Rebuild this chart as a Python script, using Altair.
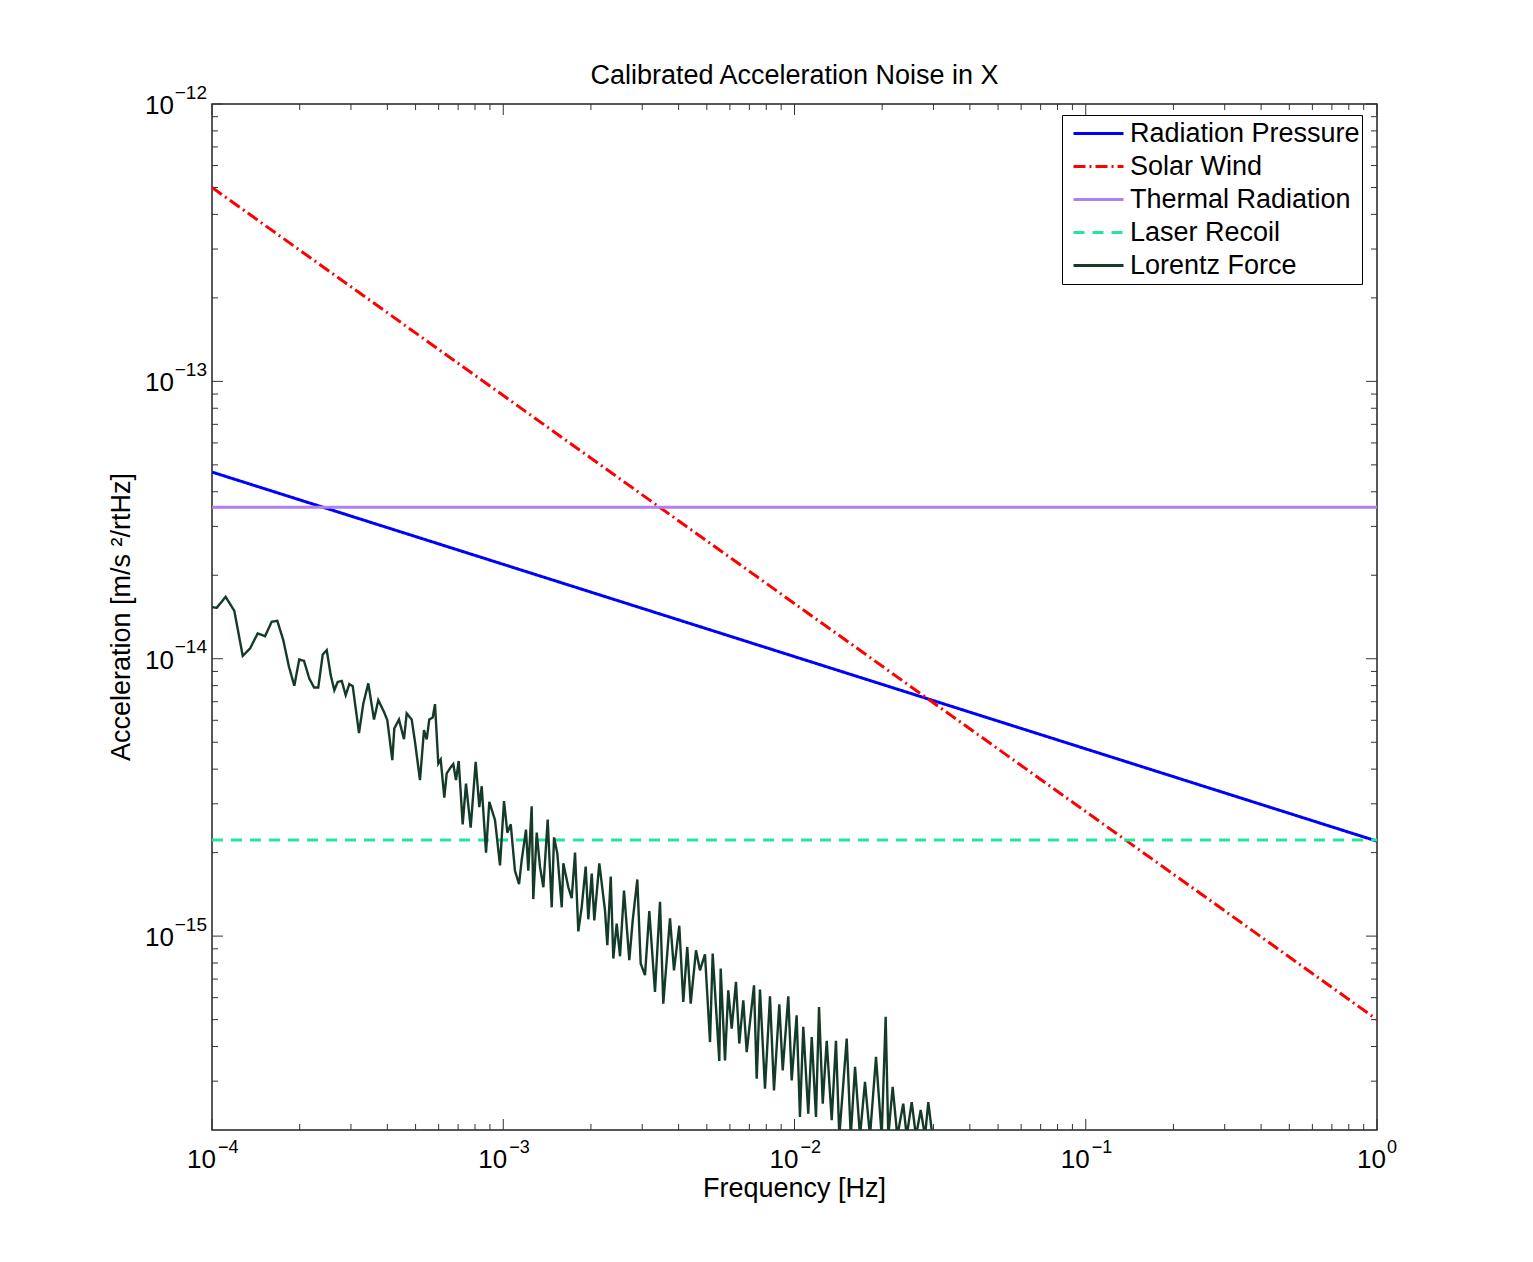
import altair as alt
import pandas as pd

FONT = "Liberation Sans"
W, H = 1165, 1026

# ---------------- data ----------------
series_names = ["Radiation Pressure", "Solar Wind", "Thermal Radiation", "Laser Recoil", "Lorentz Force"]
series_colors = ["#0000ff", "#ff0000", "#b07ff0", "#22e6a0", "#143a28"]
series_dashes = [[1, 0], [12, 4, 2, 4], [1, 0], [11, 8], [1, 0]]

freq_ends = [1e-4, 1.0]
radiation_pressure = [4.71e-14, 2.2e-15]
solar_wind = [5.0e-13, 5.0e-16]
thermal_radiation = [3.52e-14, 3.52e-14]
laser_recoil = [2.22e-15, 2.22e-15]

lorentz_freq = [
    1.000e-4, 1.038e-4, 1.114e-4, 1.193e-4, 1.275e-4, 1.351e-4, 1.435e-4, 1.521e-4, 1.603e-4, 1.676e-4,
    1.757e-4, 1.838e-4, 1.917e-4, 1.993e-4, 2.069e-4, 2.158e-4, 2.240e-4, 2.317e-4, 2.400e-4, 2.477e-4,
    2.556e-4, 2.630e-4, 2.702e-4, 2.789e-4, 2.878e-4, 2.961e-4, 3.042e-4, 3.197e-4, 3.308e-4, 3.441e-4,
    3.599e-4, 3.724e-4, 3.896e-4, 3.998e-4, 4.160e-4, 4.226e-4, 4.386e-4, 4.562e-4, 4.661e-4, 4.849e-4,
    4.977e-4, 5.177e-4, 5.344e-4, 5.460e-4, 5.573e-4, 5.725e-4, 5.830e-4, 5.984e-4, 6.098e-4, 6.275e-4,
    6.395e-4, 6.601e-4, 6.737e-4, 6.883e-4, 7.031e-4, 7.257e-4, 7.449e-4, 7.730e-4, 8.042e-4, 8.275e-4,
    8.433e-4, 8.727e-4, 8.957e-4, 9.369e-4, 9.746e-4, 1.006e-3, 1.033e-3, 1.061e-3, 1.097e-3, 1.133e-3,
    1.157e-3, 1.197e-3, 1.219e-3, 1.252e-3, 1.268e-3, 1.303e-3, 1.337e-3, 1.373e-3, 1.421e-3, 1.467e-3,
    1.494e-3, 1.533e-3, 1.588e-3, 1.608e-3, 1.673e-3, 1.718e-3, 1.764e-3, 1.810e-3, 1.859e-3, 1.919e-3,
    1.959e-3, 2.013e-3, 2.054e-3, 2.137e-3, 2.235e-3, 2.277e-3, 2.339e-3, 2.387e-3, 2.452e-3, 2.517e-3,
    2.598e-3, 2.709e-3, 2.783e-3, 2.886e-3, 2.964e-3, 3.067e-3, 3.173e-3, 3.319e-3, 3.453e-3, 3.544e-3,
    3.737e-3, 3.857e-3, 4.022e-3, 4.151e-3, 4.284e-3, 4.401e-3, 4.590e-3, 4.737e-3, 4.928e-3, 5.127e-3,
    5.237e-3, 5.518e-3, 5.579e-3, 5.772e-3, 5.924e-3, 6.086e-3, 6.296e-3, 6.463e-3, 6.671e-3, 6.853e-3,
    7.261e-3, 7.417e-3, 7.612e-3, 7.919e-3, 8.239e-3, 8.503e-3, 8.868e-3, 9.110e-3, 9.521e-3, 9.781e-3,
    1.017e-2, 1.044e-2, 1.072e-2, 1.115e-2, 1.146e-2, 1.185e-2, 1.214e-2, 1.250e-2, 1.290e-2, 1.342e-2,
    1.388e-2, 1.425e-2, 1.511e-2, 1.560e-2, 1.614e-2, 1.678e-2, 1.746e-2, 1.816e-2, 1.905e-2, 1.992e-2,
    2.056e-2, 2.099e-2, 2.173e-2, 2.254e-2, 2.363e-2, 2.428e-2, 2.526e-2, 2.613e-2, 2.712e-2, 2.806e-2,
    2.880e-2, 2.958e-2, 2.996e-2,
]
lorentz_accel = [
    1.535e-14, 1.526e-14, 1.672e-14, 1.488e-14, 1.024e-14, 1.089e-14, 1.234e-14, 1.206e-14, 1.359e-14, 1.370e-14,
    1.167e-14, 9.35e-15, 7.99e-15, 9.94e-15, 9.83e-15, 8.49e-15, 7.88e-15, 7.88e-15, 1.036e-14, 1.074e-14,
    8.73e-15, 7.70e-15, 8.25e-15, 8.32e-15, 7.39e-15, 8.10e-15, 7.96e-15, 5.40e-15, 6.90e-15, 8.15e-15,
    6.04e-15, 7.09e-15, 6.43e-15, 6.01e-15, 4.31e-15, 5.61e-15, 6.04e-15, 5.13e-15, 6.35e-15, 6.04e-15,
    5.02e-15, 3.65e-15, 5.53e-15, 5.12e-15, 6.04e-15, 6.14e-15, 6.86e-15, 4.19e-15, 4.33e-15, 3.16e-15,
    3.86e-15, 4.06e-15, 4.17e-15, 3.65e-15, 4.28e-15, 2.53e-15, 3.55e-15, 2.46e-15, 4.25e-15, 2.92e-15,
    3.47e-15, 2.00e-15, 3.05e-15, 2.62e-15, 1.80e-15, 3.07e-15, 2.36e-15, 2.53e-15, 1.72e-15, 1.54e-15,
    1.88e-15, 2.42e-15, 1.72e-15, 2.94e-15, 1.36e-15, 2.36e-15, 1.78e-15, 1.50e-15, 2.63e-15, 1.27e-15,
    2.27e-15, 1.99e-15, 1.27e-15, 1.83e-15, 1.50e-15, 1.37e-15, 2.00e-15, 1.04e-15, 1.27e-15, 1.78e-15,
    1.15e-15, 1.68e-15, 1.14e-15, 1.83e-15, 1.24e-15, 9.27e-16, 1.64e-15, 8.30e-16, 1.11e-15, 8.46e-16,
    1.46e-15, 8.19e-16, 1.14e-15, 1.60e-15, 7.96e-16, 7.23e-16, 1.23e-15, 6.29e-16, 1.33e-15, 5.71e-16,
    1.16e-15, 7.53e-16, 1.09e-15, 5.79e-16, 9.14e-16, 5.71e-16, 8.89e-16, 7.53e-16, 8.60e-16, 4.15e-16,
    8.65e-16, 3.55e-16, 7.64e-16, 3.56e-16, 6.38e-16, 4.64e-16, 6.84e-16, 4.10e-16, 5.87e-16, 3.82e-16,
    6.65e-16, 3.06e-16, 6.42e-16, 2.82e-16, 6.07e-16, 2.78e-16, 5.68e-16, 3.28e-16, 6.07e-16, 3.02e-16,
    5.18e-16, 2.23e-16, 4.71e-16, 2.29e-16, 4.33e-16, 2.23e-16, 5.55e-16, 2.49e-16, 4.19e-16, 2.17e-16,
    4.19e-16, 1.9e-16, 4.27e-16, 1.9e-16, 3.38e-16, 1.9e-16, 2.98e-16, 1.9e-16, 3.67e-16, 1.9e-16,
    5.12e-16, 1.9e-16, 2.86e-16, 1.9e-16, 2.49e-16, 1.9e-16, 2.52e-16, 1.9e-16, 2.36e-16, 1.9e-16,
    2.52e-16, 2.0e-16, 1.9e-16,
]

x_major = [1e-4, 1e-3, 1e-2, 1e-1, 1.0]
x_exponents = ["\u22124", "\u22123", "\u22122", "\u22121", "0"]
y_major = [1e-12, 1e-13, 1e-14, 1e-15]
y_exponents = ["\u221212", "\u221213", "\u221214", "\u221215"]
minor_multipliers = [2, 3, 4, 5, 6, 7, 8, 9]

title_text = "Calibrated Acceleration Noise in X"
x_title = "Frequency [Hz]"
y_title = "Acceleration [m/s \u00b2/rtHz]"

# ---------------- tables ----------------
rows = []
for name, vals in [("Radiation Pressure", radiation_pressure), ("Solar Wind", solar_wind),
                   ("Thermal Radiation", thermal_radiation), ("Laser Recoil", laser_recoil)]:
    for f, a in zip(freq_ends, vals):
        rows.append({"series": name, "f": f, "a": a})
lines_df = pd.DataFrame(rows)
lor_df = pd.DataFrame({"series": "Lorentz Force", "f": lorentz_freq, "a": lorentz_accel})

x_minor = [m * 10.0 ** k for k in range(-4, 0) for m in minor_multipliers]
y_minor = [m * 10.0 ** k for k in range(-16, -12) for m in minor_multipliers if m * 10.0 ** k > 2.5e-16]

xs = alt.Scale(type="log", domain=[1e-4, 1.0], nice=False)
ys = alt.Scale(type="log", domain=[2e-16, 1e-12], nice=False)

legend = alt.Legend(
    title=None, orient="none", legendX=850, legendY=11,
    symbolType="stroke", symbolSize=2500, symbolStrokeWidth=3,
    labelFont=FONT, labelFontSize=27, labelColor="black", labelLimit=600,
    clipHeight=33, rowPadding=0, padding=2, symbolOffset=8, labelOffset=5,
    strokeColor="black", fillColor="white",
)
color_enc = alt.Color("series:N", scale=alt.Scale(domain=series_names, range=series_colors), legend=legend)
dash_enc = alt.StrokeDash("series:N", scale=alt.Scale(domain=series_names, range=series_dashes), legend=legend)

X = alt.X("f:Q", scale=xs, axis=None)
Y = alt.Y("a:Q", scale=ys, axis=None)

lines = alt.Chart(lines_df).mark_line(strokeWidth=3, clip=True).encode(
    x=X, y=Y, color=color_enc, strokeDash=dash_enc
)
lorentz = alt.Chart(lor_df).mark_line(strokeWidth=2.4, clip=True).encode(
    x=X, y=Y, color=color_enc, strokeDash=dash_enc
)

TICK = "#333333"


def xticks(vals, length, top):
    y0, y1 = (0, length) if top else (H, H - length)
    return alt.Chart(pd.DataFrame({"v": vals})).mark_rule(color=TICK, strokeWidth=1).encode(
        x=alt.X("v:Q", scale=xs, axis=None), y=alt.value(y0), y2=alt.value(y1)
    )


def yticks(vals, length, right):
    x0, x1 = (W, W - length) if right else (0, length)
    return alt.Chart(pd.DataFrame({"v": vals})).mark_rule(color=TICK, strokeWidth=1).encode(
        y=alt.Y("v:Q", scale=ys, axis=None), x=alt.value(x0), x2=alt.value(x1)
    )


ticks = [
    xticks(x_major, 11, False), xticks(x_major, 11, True),
    xticks(x_minor, 6, False), xticks(x_minor, 6, True),
    yticks(y_major, 11, False), yticks(y_major, 11, True),
    yticks(y_minor, 6, False), yticks(y_minor, 6, True),
]

xlab_df = pd.DataFrame({"v": x_major, "exp": x_exponents})
ylab_df = pd.DataFrame({"v": y_major, "exp": y_exponents})
XV = alt.X("v:Q", scale=xs, axis=None)
YV = alt.Y("v:Q", scale=ys, axis=None)

x_base = alt.Chart(xlab_df).transform_filter("datum.v < 0.5").mark_text(
    align="right", baseline="alphabetic", fontSize=26, font=FONT, color="black", dx=4
).encode(x=XV, y=alt.value(H + 38), text=alt.value("10"))
x_exp = alt.Chart(xlab_df).transform_filter("datum.v < 0.5").mark_text(
    align="left", baseline="alphabetic", fontSize=18, font=FONT, color="black", dx=6
).encode(x=XV, y=alt.value(H + 23), text="exp:N")
x_base0 = alt.Chart(xlab_df).transform_filter("datum.v > 0.5").mark_text(
    align="right", baseline="alphabetic", fontSize=26, font=FONT, color="black", dx=9
).encode(x=XV, y=alt.value(H + 38), text=alt.value("10"))
x_exp0 = alt.Chart(xlab_df).transform_filter("datum.v > 0.5").mark_text(
    align="left", baseline="alphabetic", fontSize=18, font=FONT, color="black", dx=10
).encode(x=XV, y=alt.value(H + 23), text="exp:N")

y_base = alt.Chart(ylab_df).mark_text(
    align="right", baseline="alphabetic", fontSize=26, font=FONT, color="black", dy=10
).encode(y=YV, x=alt.value(-38), text=alt.value("10"))
y_exp = alt.Chart(ylab_df).mark_text(
    align="right", baseline="alphabetic", fontSize=19, font=FONT, color="black", dy=-5.5
).encode(y=YV, x=alt.value(-5), text="exp:N")

title_mark = alt.Chart(pd.DataFrame({"t": [title_text]})).mark_text(
    align="center", baseline="alphabetic", fontSize=27, font=FONT, color="black"
).encode(x=alt.value(W / 2), y=alt.value(-20), text="t:N")
xt = alt.Chart(pd.DataFrame({"t": [x_title]})).mark_text(
    align="center", baseline="alphabetic", fontSize=27, font=FONT, color="black"
).encode(x=alt.value(W / 2), y=alt.value(H + 66.5), text="t:N")
yt = alt.Chart(pd.DataFrame({"t": [y_title]})).mark_text(
    align="center", baseline="alphabetic", fontSize=27, font=FONT, color="black", angle=270
).encode(x=alt.value(-82.5), y=alt.value(H / 2), text="t:N")

chart = alt.layer(
    *ticks, lines, lorentz, x_base, x_exp, x_base0, x_exp0, y_base, y_exp, title_mark, xt, yt
).properties(
    width=W, height=H,
    padding={"left": 212, "top": 104, "right": 156, "bottom": 132},
    autosize=alt.AutoSizeParams(type="none"),
    background="white",
).configure_view(stroke="#222222", strokeWidth=1.5)

chart.save("out.html", embed_options={"renderer": "svg", "actions": False})
